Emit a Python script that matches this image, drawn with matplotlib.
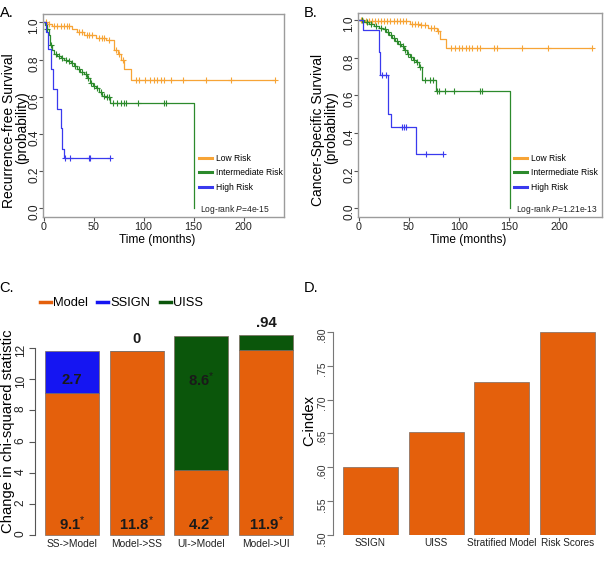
import numpy as np
import matplotlib
matplotlib.use("Agg")
import matplotlib.pyplot as plt
from matplotlib import font_manager as fm
from matplotlib.lines import Line2D

# ---------------- data ----------------
# Panel A: recurrence-free survival (step times, survival after step, censor times)
a_low_t = [3, 8, 28, 33, 40, 52, 62, 70, 74, 77, 80, 87]
a_low_s = [0.99, 0.98, 0.965, 0.95, 0.93, 0.915, 0.905, 0.85, 0.83, 0.80, 0.75, 0.69]
a_low_c = [2, 5, 10, 13, 17, 20, 23, 25, 35, 38, 43, 45, 48, 55, 58, 60, 65, 72, 75, 79,
           92, 95, 101, 106, 110, 113, 117, 120, 127, 139, 162, 187, 231.5]
a_int_t = [1, 3, 5, 6, 8, 10, 13, 17, 20, 24, 27, 30, 33, 36, 40, 43, 46, 49, 52, 55, 58, 62, 66, 150]
a_int_s = [0.985, 0.966, 0.93, 0.88, 0.85, 0.83, 0.82, 0.81, 0.80, 0.79, 0.78, 0.765, 0.75,
           0.735, 0.72, 0.70, 0.675, 0.66, 0.645, 0.625, 0.605, 0.60, 0.565, 0.0]
a_int_c = [3, 7, 12, 15, 18, 22, 25, 28, 31, 35, 38, 42, 44, 47, 50, 53, 57, 60, 63, 65,
           69, 73, 77, 80, 82, 94, 120, 122]
a_high_t = [2, 4, 7, 9, 13, 17, 18.5, 20]
a_high_s = [0.95, 0.857, 0.75, 0.643, 0.536, 0.43, 0.32, 0.27]
a_high_c = [21.5, 26, 45, 46.5, 66.5]
a_end = [231.5, 150, 66.5]

# Panel B: cancer-specific survival
b_low_t = [3, 51, 62, 69, 78, 81, 87]
b_low_s = [0.995, 0.98, 0.975, 0.955, 0.94, 0.90, 0.85]
b_low_c = [2, 4, 7, 10, 13, 16, 19, 22, 25, 28, 31, 35, 38, 41, 44, 47, 53, 56, 59, 62, 66,
           72, 75, 79, 92, 96, 100, 103, 107, 110, 113, 118, 121, 135, 138, 163, 189, 233]
b_int_t = [5, 10, 15, 20, 24, 27, 30, 33, 36, 39, 42, 45, 48, 51, 54, 57, 60, 63, 77, 151]
b_int_s = [0.99, 0.98, 0.97, 0.96, 0.95, 0.935, 0.92, 0.905, 0.89, 0.875, 0.86, 0.84, 0.82,
           0.805, 0.79, 0.775, 0.75, 0.68, 0.622, 0.0]
b_int_c = [3, 8, 12, 17, 22, 26, 29, 32, 35, 38, 41, 44, 46, 49, 52, 55, 58, 61, 66, 71, 74,
           78, 80, 86, 95, 121, 123]
b_high_t = [3.5, 19.5, 21, 29, 31.5, 57]
b_high_s = [0.947, 0.83, 0.71, 0.50, 0.43, 0.286]
b_high_c = [23, 27, 43, 45, 47, 67, 83.5]
b_end = [233, 151, 84]

risk_groups = ["Low Risk", "Intermediate Risk", "High Risk"]
a_pvalue = "4e-15"
b_pvalue = "1.21e-13"

# Panel C: change in chi-squared statistic
c_comparisons = ["SS->Model", "Model->SS", "UI->Model", "Model->UI"]
c_model = [9.1, 11.8, 4.2, 11.9]
c_model_sig = [True, True, True, True]
c_other = [2.7, 0.0, 8.6, 0.94]
c_other_label = ["2.7", "0", "8.6", ".94"]
c_other_sig = [False, False, True, False]
c_other_kind = ["SSIGN", "SSIGN", "UISS", "UISS"]
c_legend = ["Model", "SSIGN", "UISS"]

# Panel D: C-index
d_models = ["SSIGN", "UISS", "Stratified Model", "Risk Scores"]
d_cindex = [0.600, 0.652, 0.726, 0.800]

# ---------------- style ----------------
W, H = 606, 563
names = {f.name for f in fm.fontManager.ttflist}
REG = "Liberation Sans" if "Liberation Sans" in names else "DejaVu Sans"
NARROW = "Liberation Sans Narrow" if "Liberation Sans Narrow" in names else REG
hs = 1.0 if NARROW != REG else 0.84   # horizontal-text size factor

plt.rcParams["font.family"] = [REG, "DejaVu Sans"]
plt.rcParams["mathtext.fontset"] = "custom"
plt.rcParams["mathtext.rm"] = NARROW
plt.rcParams["mathtext.it"] = NARROW + ":italic"
plt.rcParams["mathtext.bf"] = NARROW + ":bold"

KM_COLORS = ["#F7A436", "#2C8A2C", "#3A3AEE"]
ORANGE = "#E4600C"
BLUE = "#1515F2"
DGREEN = "#0B560B"
BOX = "#9C9C9C"

fig = plt.figure(figsize=(W / 100, H / 100), dpi=100)


def px_axes(l, t, r, b):
    return fig.add_axes([l / W, 1 - b / H, (r - l) / W, (b - t) / H])


def ftext(x, y, s, **kw):
    return fig.text(x / W, 1 - y / H, s, **kw)


def surv_at(times, surv, c):
    idx = np.searchsorted(times, c, side="right")
    return np.concatenate([[1.0], surv])[idx]


def km_panel(ax, curves, ends, censors, pval, leg_xy, lr_xy):
    for (t, s), end, cens, col in zip(curves, ends, censors, KM_COLORS):
        t = np.asarray(t, float)
        s = np.asarray(s, float)
        xs = np.concatenate([[0.0], t, [end]])
        ys = np.concatenate([[1.0], s, [s[-1]]])
        ax.step(xs, ys, where="post", color=col, lw=0.9)
        cy = surv_at(t, s, np.asarray(cens, float))
        ax.plot(cens, cy, ls="none", marker="+", ms=4.5, mew=0.8, color=col)
    ax.set_xticks([0, 50, 100, 150, 200])
    ax.set_yticks([0.0, 0.2, 0.4, 0.6, 0.8, 1.0])
    ax.set_yticklabels(["0.0", "0.2", "0.4", "0.6", "0.8", "1.0"])
    for sp in ax.spines.values():
        sp.set_color(BOX)
        sp.set_linewidth(1.0)
    ax.tick_params(axis="both", length=3, width=0.8, color="#555555", labelcolor="#222222")
    ax.tick_params(axis="x", pad=0.8, labelsize=9.2 * hs)
    ax.tick_params(axis="y", pad=-1.0, labelsize=8.6, labelrotation=90)
    for lab in ax.get_xticklabels():
        lab.set_family(NARROW)
    handles = [Line2D([], [], color=c, lw=2.2) for c in KM_COLORS]
    ax.legend(handles, risk_groups, loc="upper left",
              bbox_to_anchor=(leg_xy[0] / W, 1 - leg_xy[1] / H),
              bbox_transform=fig.transFigure, frameon=False, borderpad=0,
              borderaxespad=0, handlelength=1.55, handletextpad=0.4,
              labelspacing=0.62, prop={"family": NARROW, "size": 7.3 * hs})
    ftext(lr_xy[0], lr_xy[1], r"Log-rank $\mathit{P}$=" + pval, va="center", ha="left",
          family=NARROW, fontsize=7.3 * hs, color="#222222")


# ---------- Panel A ----------
axA = px_axes(43, 14.3, 284, 216.7)
axA.set_xlim(-0.5, 240.5)
axA.set_ylim(-0.045, 1.043)
km_panel(axA, [(a_low_t, a_low_s), (a_int_t, a_int_s), (a_high_t, a_high_s)], a_end,
         [a_low_c, a_int_c, a_high_c], a_pvalue, (199, 154), (200, 210))
ftext(157, 240, "Time (months)", ha="center", va="center", family=NARROW, fontsize=10.2 * hs)
ftext(9.5, 131, "Recurrence-free Survival", rotation=90, ha="center", va="center", fontsize=10)
ftext(22, 128, "(probability)", rotation=90, ha="center", va="center", fontsize=10)
ftext(7, 13, "A.", ha="center", va="center", family=NARROW, fontsize=12.5 * hs)

# ---------- Panel B ----------
axB = px_axes(358, 13.3, 602, 216.7)
axB.set_xlim(-1, 243)
axB.set_ylim(-0.0446, 1.0356)
km_panel(axB, [(b_low_t, b_low_s), (b_int_t, b_int_s), (b_high_t, b_high_s)], b_end,
         [b_low_c, b_int_c, b_high_c], b_pvalue, (514, 154), (516, 209))
ftext(468, 240, "Time (months)", ha="center", va="center", family=NARROW, fontsize=10.2 * hs)
ftext(318, 130, "Cancer-Specific Survival", rotation=90, ha="center", va="center", fontsize=10)
ftext(331, 128, "(probability)", rotation=90, ha="center", va="center", fontsize=10)
ftext(311, 13, "B.", ha="center", va="center", family=NARROW, fontsize=12.5 * hs)

# ---------- Panel C ----------
axC = px_axes(35, 327, 303, 537.3)
xpos = np.array([0.7, 1.9, 3.1, 4.3])
kind_col = {"SSIGN": BLUE, "UISS": DGREEN}
axC.bar(xpos, c_model, width=1.0, color=ORANGE, edgecolor="#7a6a60", linewidth=0.5)
axC.bar(xpos, c_other, width=1.0, bottom=c_model,
        color=[kind_col[k] for k in c_other_kind], edgecolor="#7a6a60", linewidth=0.5)
axC.set_xlim(0.016, 4.984)
axC.set_ylim(-0.148, 13.35)
for sp in ["top", "right", "bottom"]:
    axC.spines[sp].set_visible(False)
axC.spines["left"].set_bounds(0, 12)
axC.spines["left"].set_color("#555555")
axC.set_yticks(range(0, 13, 2))
axC.tick_params(axis="y", length=4, width=0.8, color="#555555", labelsize=8.6,
                labelrotation=90, pad=2.0, labelcolor="#222222")
axC.set_xticks(xpos)
axC.set_xticklabels(c_comparisons, family=NARROW, fontsize=8.8 * hs, color="#222222")
axC.tick_params(axis="x", length=0, pad=1)


def val_label(v, sig):
    s = ("%g" % v)
    return r"$\mathbf{" + s + r"}^{*}$" if sig else s


txt_kw = dict(ha="center", family=NARROW, fontweight="bold", fontsize=12.8 * hs,
              color="#1a1a1a", clip_on=False)
for x, m, ms in zip(xpos, c_model, c_model_sig):
    axC.text(x, 0.12, val_label(m, ms), va="bottom", **txt_kw)
for x, m, o, lab, sig in zip(xpos, c_model, c_other, c_other_label, c_other_sig):
    s = (r"$\mathbf{" + lab + r"}^{*}$") if sig else lab
    if o > 1.5:
        axC.text(x, 9.95, s, va="center", **txt_kw)
    else:
        axC.text(x, m + o + 0.3, s, va="bottom", **txt_kw)

leg_handles = [Line2D([], [], color=c, lw=2.5) for c in [ORANGE, BLUE, DGREEN]]
axC.legend(leg_handles, c_legend, loc="center left", ncol=3,
           bbox_to_anchor=(40 / W, 1 - 303 / H), bbox_transform=fig.transFigure,
           frameon=False, borderpad=0, borderaxespad=0, handlelength=0.85,
           handletextpad=0.15, columnspacing=0.75,
           prop={"family": NARROW, "size": 11 * hs})
ftext(8.5, 431, "Change in chi-squared statistic", rotation=90, ha="center", va="center",
      fontsize=10.7)
ftext(6, 288, "C.", ha="center", va="center", family=NARROW, fontsize=12.5 * hs)

# ---------- Panel D ----------
axD = px_axes(333, 332, 605, 535)
axD.bar(xpos, d_cindex, width=1.0, color=ORANGE, edgecolor="#7a6a60", linewidth=0.5)
axD.set_xlim(0.016, 4.984)
axD.set_ylim(0.5, 0.8)
for sp in ["top", "right", "bottom"]:
    axD.spines[sp].set_visible(False)
axD.spines["left"].set_color("#777777")
yt = [0.50, 0.55, 0.60, 0.65, 0.70, 0.75, 0.80]
axD.set_yticks(yt)
axD.set_yticklabels([("%.2f" % v)[1:] for v in yt])
axD.tick_params(axis="y", length=4.5, width=0.8, color="#777777", labelsize=7.6,
                labelrotation=90, pad=-0.5, labelcolor="#333333")
axD.set_xticks(xpos)
axD.set_xticklabels(d_models, family=NARROW, fontsize=8.6 * hs, color="#222222")
axD.tick_params(axis="x", length=0, pad=2)
ftext(309, 420, "C-index", rotation=90, ha="center", va="center", fontsize=10.6)
ftext(311, 288, "D.", ha="center", va="center", family=NARROW, fontsize=12.5 * hs)

fig.savefig("out.png", dpi=100)
